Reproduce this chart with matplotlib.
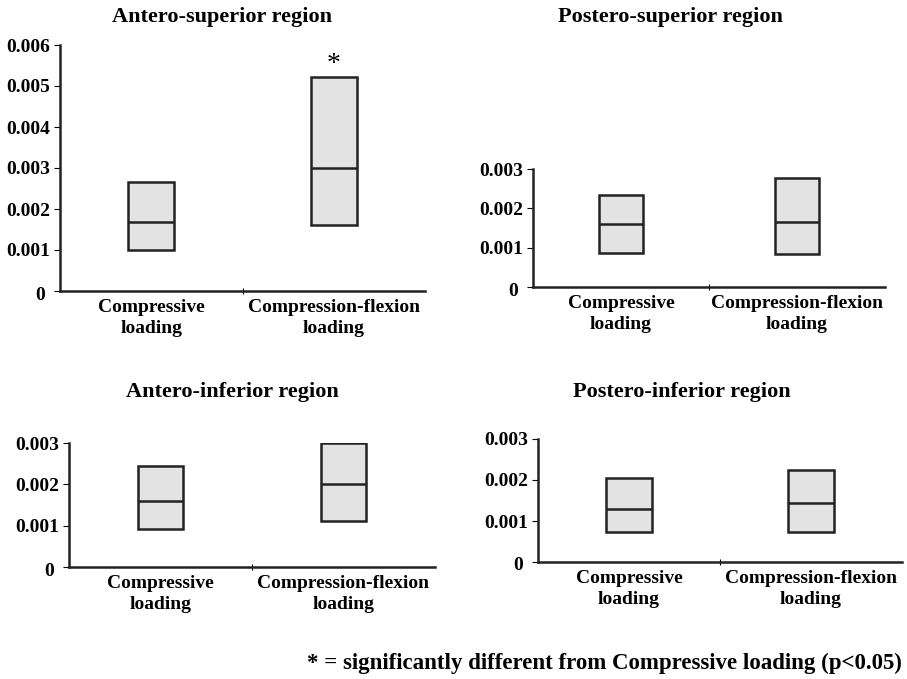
import numpy as np
import matplotlib.pyplot as plt

plt.rcParams['font.family'] = 'Liberation Serif'
plt.rcParams['font.weight'] = 'bold'

W, H = 907, 679
dpi = 100

regions = ['Antero-superior region', 'Postero-superior region',
           'Antero-inferior region', 'Postero-inferior region']
categories = ['Compressive\nloading', 'Compression-flexion\nloading']
lows = [[0.00100, 0.00160], [0.00087, 0.00084], [0.00092, 0.00111], [0.00073, 0.00073]]
highs = [[0.00266, 0.00522], [0.00234, 0.00277], [0.00245, 0.00300], [0.00205, 0.00224]]
medians = [[0.00168, 0.00300], [0.00160, 0.00165], [0.00160, 0.00200], [0.00130, 0.00144]]
ymax = [0.006, 0.003, 0.003, 0.003]
signif = [[False, True], [False, False], [False, False], [False, False]]

# axes boxes in pixels: left, right, top, bottom
boxes = [(60, 425, 45, 291), (533, 885, 169, 287), (69, 435, 443, 567), (538, 902, 439, 562)]
title_pos = [(222, 17), (670, 17), (232, 392), (682, 392)]

fig = plt.figure(figsize=(W / dpi, H / dpi), dpi=dpi)

x = np.array([0.5, 1.5])
w = 0.25
for i in range(4):
    l, r, t, b = boxes[i]
    ax = fig.add_axes([l / W, 1 - b / H, (r - l) / W, (b - t) / H])
    lo = np.array(lows[i])
    hi = np.array(highs[i])
    ax.bar(x, hi - lo, bottom=lo, width=w, color='#e3e3e3', edgecolor='#222222', linewidth=1.8)
    ax.hlines(medians[i], x - w / 2, x + w / 2, color='#222222', linewidth=1.8)
    for j in range(2):
        if signif[i][j]:
            ax.text(x[j], hi[j], '*', ha='center', va='bottom', fontsize=20,
                    fontweight='normal')
    ax.set_xlim(0, 2)
    ax.set_ylim(0, ymax[i])
    yt = np.arange(0, ymax[i] + 1e-9, 0.001)
    ax.set_yticks(yt)
    ax.set_yticklabels([''] + [f'{v:.3f}' for v in yt[1:]], fontsize=14)
    # the zero label sits a bit further out and lower in the original
    ax.annotate('0', xy=(0, 0), xycoords='axes fraction', xytext=(-15, -4),
                textcoords='offset pixels', ha='right', va='center', fontsize=14)
    ax.set_xticks([1])
    ax.set_xticklabels([''])
    ax.set_xticks(x, minor=True)
    ax.set_xticklabels(categories, minor=True, fontsize=14, linespacing=1.3)
    ax.tick_params(axis='x', which='minor', length=0, pad=6)
    ax.tick_params(axis='x', which='major', length=5, direction='inout')
    ax.tick_params(axis='y', length=4, pad=3)
    for s in ('top', 'right'):
        ax.spines[s].set_visible(False)
    for s in ('left', 'bottom'):
        ax.spines[s].set_linewidth(1.8)
        ax.spines[s].set_color('#222222')
    ax.patch.set_alpha(0)
    tx, ty = title_pos[i]
    fig.text(tx / W, 1 - ty / H, regions[i], ha='center', va='center', fontsize=16)

fig.text(902 / W, 1 - 663 / H, '* = significantly different from Compressive loading (p<0.05)',
         ha='right', va='center', fontsize=16.5)

fig.savefig('out.png', dpi=dpi)
